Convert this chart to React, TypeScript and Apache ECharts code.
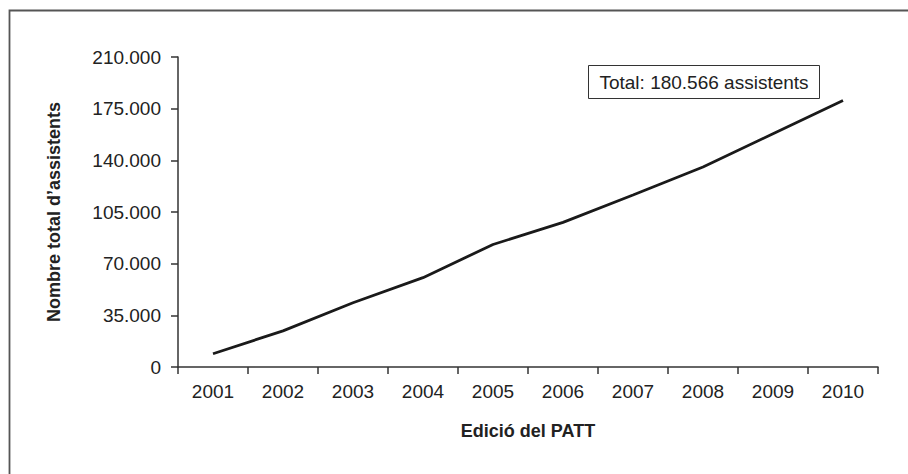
import React, { useEffect, useRef } from "react";
import * as echarts from "echarts";

const years = ["2001", "2002", "2003", "2004", "2005", "2006", "2007", "2008", "2009", "2010"];
const attendees = [9000, 24500, 43500, 60500, 83000, 98000, 116500, 135500, 158000, 180566];
const yTicks = { min: 0, max: 210000, interval: 35000 };
const yAxisTitle = "Nombre total d\u2019assistents";
const xAxisTitle = "Edici\u00f3 del PATT";
const annotation = "Total: 180.566 assistents";

const fmt = (v: number) => (v === 0 ? "0" : v.toLocaleString("de-DE"));

export default function App() {
  const ref = useRef<HTMLDivElement>(null);
  useEffect(() => {
    if (!ref.current) return;
    const chart = echarts.init(ref.current, undefined, { renderer: "svg" });
    const font = "'Liberation Sans', Arial, sans-serif";
    chart.setOption({
      animation: false,
      backgroundColor: "#ffffff",
      textStyle: { fontFamily: font },
      grid: { left: 178, right: 30, top: 57, bottom: 107, containLabel: false },
      xAxis: {
        type: "category",
        data: years,
        boundaryGap: true,
        axisLine: { lineStyle: { color: "#333", width: 1.5 } },
        axisTick: { show: true, length: 7, interval: 0, lineStyle: { color: "#333", width: 1.5 } },
        axisLabel: { color: "#222", fontSize: 19, margin: 15, fontFamily: font },
        name: xAxisTitle,
        nameLocation: "middle",
        nameGap: 55,
        nameTextStyle: { color: "#222", fontSize: 18, fontWeight: "bold", fontFamily: font },
        splitLine: { show: false },
      },
      yAxis: {
        type: "value",
        min: yTicks.min,
        max: yTicks.max,
        interval: yTicks.interval,
        axisLine: { show: true, lineStyle: { color: "#333", width: 1.5 } },
        axisTick: { show: true, length: 7, lineStyle: { color: "#333", width: 1.5 } },
        axisLabel: { color: "#222", fontSize: 19, margin: 17, fontFamily: font, formatter: fmt },
        splitLine: { show: false },
        name: yAxisTitle,
        nameLocation: "middle",
        nameGap: 115,
        nameRotate: 90,
        nameTextStyle: { color: "#222", fontSize: 18, fontWeight: "bold", fontFamily: font },
      },
      series: [
        {
          type: "line",
          data: attendees,
          symbol: "none",
          lineStyle: { color: "#1a1a1a", width: 2.8 },
        },
      ],
      graphic: [
        {
          type: "rect",
          shape: { x: 9.5, y: 10.5, width: 1000, height: 1000 },
          style: { fill: "none", stroke: "#555", lineWidth: 1.8 },
          silent: true,
        },
        {
          type: "rect",
          shape: { x: 588.5, y: 65.5, width: 231, height: 33 },
          style: { fill: "#fff", stroke: "#333", lineWidth: 1 },
          silent: true,
        },
        {
          type: "text",
          x: 704,
          y: 82,
          style: {
            text: annotation,
            fill: "#222",
            fontSize: 19,
            fontFamily: font,
            align: "center",
            verticalAlign: "middle",
          },
          silent: true,
        },
      ],
    });
    return () => chart.dispose();
  }, []);
  return (
    <div
      ref={ref}
      style={{ position: "fixed", left: 0, top: 0, width: 908, height: 474 }}
    />
  );
}
